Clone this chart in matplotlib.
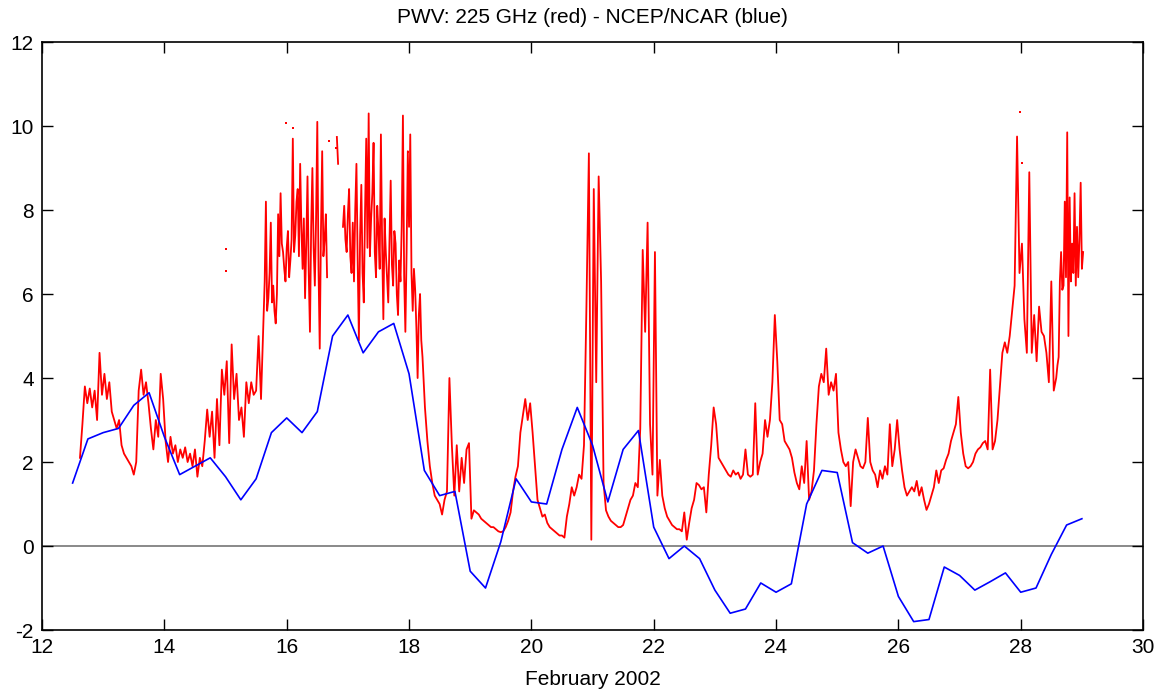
import numpy as np
import matplotlib
matplotlib.use("Agg")
import matplotlib.pyplot as plt

plt.rcParams['font.family'] = ['Liberation Sans', 'DejaVu Sans']
plt.rcParams['axes.unicode_minus'] = False

# NCEP/NCAR PWV, 6-hourly from Feb 12.5
ncep_t0 = 12.5
ncep_pwv = [1.5, 2.55, 2.7, 2.8, 3.35, 3.65, 2.6, 1.7, 1.9, 2.1, 1.65, 1.1,
            1.6, 2.7, 3.05, 2.7, 3.2, 5.0, 5.5, 4.6, 5.1, 5.3, 4.1, 1.8,
            1.2, 1.3, -0.6, -1.0, 0.1, 1.6, 1.05, 1.0, 2.3, 3.3, 2.4, 1.05,
            2.3, 2.75, 0.45, -0.3, 0.0, -0.3, -1.05, -1.6, -1.5, -0.88, -1.1, -0.9,
            1.0, 1.8, 1.75, 0.08, -0.17, 0.0, -1.2, -1.8, -1.75, -0.5, -0.7, -1.05,
            -0.85, -0.64, -1.1, -1.0, -0.2, 0.5, 0.65]

nan = np.nan

# 225 GHz tipper PWV, read in pieces: (start day, step in days, values)
tip_a_t0, tip_a_dt = 12.62, 0.04
tip_a = [
    2.1, 2.9, 3.8, 3.4, 3.75, 3.3, 3.7, 3.0, 4.6, 3.6, 4.1, 3.5, 3.9, 3.2, 3.0, 2.8, 3.0, 2.4, 2.2, 2.1, 2.0, 1.9, 1.7, 2.0, 3.7,
    4.2, 3.6, 3.9, 3.4, 2.8, 2.3, 3.0, 2.6, 4.1, 3.5, 2.5, 2.0, 2.6, 2.2, 2.4, 2.0, 2.3, 2.1, 2.35, 2.0, 2.2, 1.9, 2.3, 1.65, 2.1,
    1.9, 2.5, 3.25, 2.6, 3.2, 2.1, 3.5, 2.4, 4.2, 3.6, 4.4, 2.45, 4.8, 3.5, 4.1, 3.0, 3.3, 2.6, 3.9, 3.4, 3.9, 3.6, 3.7, 5.0, 3.5,
]

tip_b_t0, tip_b_dt = 15.62, 0.02
tip_b = [
    5.4, 6.3, 8.2, 5.6, 5.9, 6.5, 7.7, 5.8, 6.2, 5.6, 5.3, 6.0, 7.9, 6.9, 8.4, 7.2, 7.0, 6.6, 6.3, 7.1,
    7.5, 6.4, 6.8, 7.3, 9.7, 7.0, 7.4, 8.2, 8.5, 6.9, 9.1, 7.6, 6.6, 7.8, 5.9, 7.2, 8.8, 6.5, 5.1, 7.6,
    9.0, 7.1, 6.2, 7.8, 10.1, 6.6, 4.7, 7.5, 9.4, 6.9, 7.3, 7.9, 6.4, nan, nan, nan, nan, nan, nan, nan,
    9.74, 9.1, nan, nan, nan, 7.6, 8.1, 7.3, 7.0, 7.9, 8.5, 6.9, 6.5, 7.7, 6.3, 8.0, 9.1, 6.8, 4.9, 7.4,
    8.6, 6.5, 5.8, 7.9, 9.7, 7.1, 10.3, 6.9, 7.8, 8.4, 9.6, 7.0, 6.4, 8.1, 7.5, 6.6, 9.8, 7.2, 5.4, 7.8,
    7.0, 6.4, 5.8, 7.3, 8.7, 6.7, 6.2, 7.5, 7.2, 6.0, 5.5, 6.8, 6.3, 7.6, 10.25, 6.4, 5.1, 7.0, 9.4, 7.6,
    9.8, 6.5, 5.6, 6.6, 6.1, 5.2, 4.0, 5.5, 6.0, 4.9,
]

tip_c_t0, tip_c_dt = 18.22, 0.04
tip_c = [
    4.5, 3.3, 2.5, 1.9, 1.5, 1.2, 1.1, 1.0, 0.75, 1.1,
    1.3, 4.0, 2.4, 1.2, 2.4, 1.3, 2.1, 1.5, 2.3, 2.45, 0.65, 0.85, 0.8, 0.75, 0.65, 0.6, 0.55, 0.5, 0.45, 0.45, 0.4, 0.35, 0.33, 0.35, 0.45,
    0.6, 0.8, 1.3, 1.65, 1.9, 2.7, 3.1, 3.5, 3.0, 3.4, 2.7, 1.9, 1.1, 0.9, 0.7, 0.75, 0.55, 0.45, 0.4, 0.35, 0.3, 0.25, 0.25, 0.2, 0.7,
    1.0, 1.4, 1.2, 1.4, 1.7, 1.6, 2.4, 5.7, 9.35, 0.15, 8.5, 3.9, 8.8, 6.3, 1.5, 0.85, 0.7, 0.6, 0.55, 0.5, 0.45, 0.45, 0.5, 0.7, 0.9,
    1.1, 1.2, 1.5, 1.4, 2.8, 7.05, 5.1, 7.7, 2.9, 1.7, 7.0, 1.2, 2.05, 1.2, 0.9, 0.7, 0.6, 0.5, 0.45, 0.4, 0.4, 0.35, 0.8, 0.15, 0.55,
    0.9, 1.1, 1.5, 1.45, 1.35, 1.4, 0.8, 1.7, 2.4, 3.3, 2.9, 2.1, 2.0, 1.9, 1.8, 1.7, 1.65, 1.8, 1.7, 1.75, 1.6, 1.7, 2.3, 1.7, 1.65,
    1.7, 3.4, 1.7, 2.0, 2.2, 3.0, 2.6, 3.0, 3.9, 5.5, 4.4, 3.0, 2.9, 2.5, 2.4, 2.3, 2.1, 1.75, 1.5, 1.35, 1.9, 1.5, 2.5, 1.1, 1.3,
    1.8, 2.9, 3.8, 4.1, 3.9, 4.7, 3.6, 3.9, 3.7, 4.1, 2.7, 2.3, 2.0, 1.9, 2.0, 0.95, 2.0, 2.3, 2.1, 1.9, 1.85, 2.0, 3.05, 2.0, 1.8,
    1.7, 1.4, 1.8, 1.6, 1.9, 1.7, 2.9, 1.9, 2.3, 3.0, 2.3, 1.8, 1.4, 1.2, 1.3, 1.4, 1.3, 1.55, 1.2, 1.4, 1.1, 0.86, 1.0, 1.2, 1.4,
    1.8, 1.5, 1.8, 1.85, 2.05, 2.2, 2.5, 2.7, 2.9, 3.55, 2.7, 2.2, 1.9, 1.85, 1.9, 2.0, 2.2, 2.3, 2.35, 2.45, 2.5, 2.3, 4.2, 2.3, 2.5,
    3.0, 3.8, 4.6, 4.85, 4.6, 5.0, 5.6, 6.2, 9.75, 6.5, 7.2, 5.4, 4.6, 8.9, 4.6, 5.5, 4.4, 5.7, 5.1, 5.0, 4.6, 3.9, 6.3, 3.7, 4.0,
]

tip_d_t0, tip_d_dt = 28.60, 0.02
tip_d = [4.3, 4.5, 6.3, 7.0, 6.1, 6.2, 8.2, 6.4, 9.85, 5.0, 8.3, 6.3, 7.2, 6.5, 8.4, 6.2, 7.6, 6.4,
         7.3, 8.65, 6.6, 7.0]

# isolated tipper samples
dot_t = [15.01, 15.01, 15.99, 16.10, 16.69, 16.81, 17.99, 27.99, 28.02]
dot_pwv = [7.07, 6.55, 10.07, 9.95, 9.64, 9.47, 9.38, 10.33, 9.12]

ncep_t = ncep_t0 + 0.25 * np.arange(len(ncep_pwv))
pieces = [(tip_a_t0, tip_a_dt, tip_a), (tip_b_t0, tip_b_dt, tip_b),
          (tip_c_t0, tip_c_dt, tip_c), (tip_d_t0, tip_d_dt, tip_d)]
tip_t = np.concatenate([t0 + dt * np.arange(len(v)) for t0, dt, v in pieces])
tip_pwv = np.concatenate([np.array(v, float) for _, _, v in pieces])

fig = plt.figure(figsize=(11.58, 6.96), dpi=100)
ax = fig.add_axes([0.0363, 0.0948, 0.9508, 0.8448])

ax.axhline(0, color='#808080', lw=1.3, zorder=1)
ax.plot(tip_t, tip_pwv, color='red', lw=1.3, zorder=2)
ax.plot(dot_t, dot_pwv, 's', color='red', ms=1.6, mew=0, zorder=2)
ax.plot(ncep_t, ncep_pwv, color='blue', lw=1.2, zorder=3)

ax.set_xlim(12, 30)
ax.set_ylim(-2, 12)
ax.set_xticks(np.arange(12, 31, 2))
ax.set_yticks(np.arange(-2, 13, 2))
ax.tick_params(direction='in', length=8, width=1, top=True, right=True,
               labelsize=15, pad=6)
for s in ax.spines.values():
    s.set_linewidth(1.2)

ax.set_title('PWV: 225 GHz (red) - NCEP/NCAR (blue)', fontsize=15, pad=14)
ax.set_xlabel('February 2002', fontsize=15, labelpad=9)

fig.savefig('out.png', dpi=100)
